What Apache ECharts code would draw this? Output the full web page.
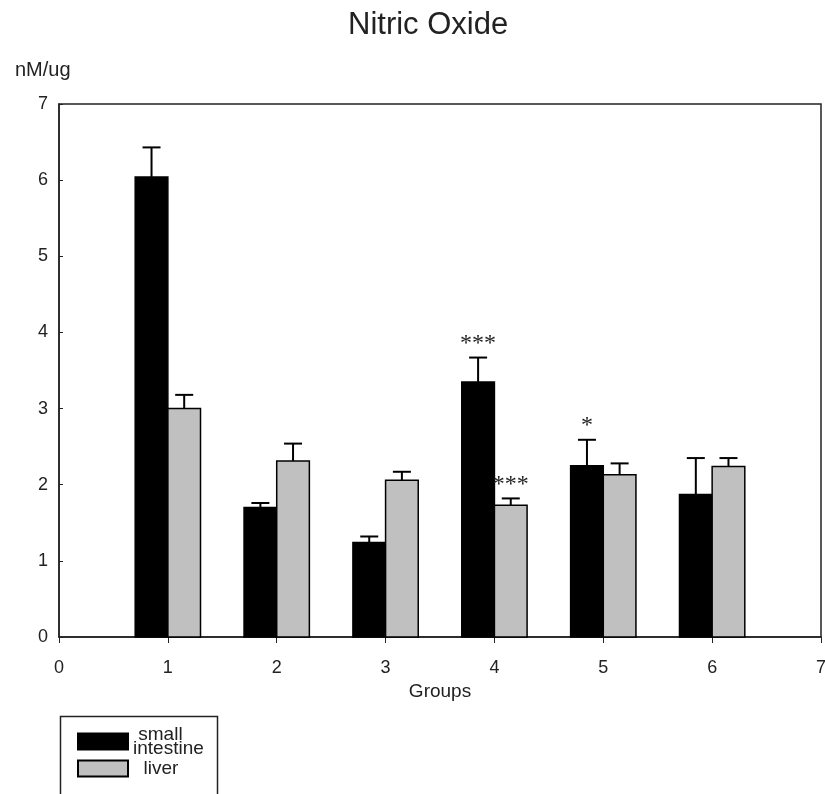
<!DOCTYPE html>
<html>
<head>
  <meta charset="UTF-8">
  <title>Nitric Oxide</title>
  <style>
    * { margin:0; padding:0; }
    body { background:#fff; }
    #chart { width:825px; height:794px; }
  </style>
  <script src="https://cdn.jsdelivr.net/npm/echarts@6/dist/echarts.min.js"></script>
</head>
<body>
  <div id="chart"></div>
  <script>
    // values
    const groups = [1, 2, 3, 4, 5, 6];
    const intestine    = [6.04, 1.70, 1.24, 3.35, 2.25, 1.87];
    const intestineErr = [0.39, 0.06, 0.08, 0.32, 0.34, 0.48];
    const intestineSig = ['', '', '', '***', '*', ''];
    const liver    = [3.00, 2.31, 2.06, 1.73, 2.13, 2.24];
    const liverErr = [0.18, 0.23, 0.11, 0.09, 0.15, 0.11];
    const liverSig = ['', '', '', '***', '', ''];

    const barW = 0.3;

    function makeRender(side, color, sig) {
      return function (params, api) {
        const g = api.value(0), v = api.value(1), e = api.value(2);
        const x0 = side < 0 ? g - barW : g;
        const p0 = api.coord([x0, v]);
        const p1 = api.coord([x0 + barW, 0]);
        const mid = api.coord([x0 + barW / 2, v]);
        const top = api.coord([x0 + barW / 2, v + e]);
        const children = [
          { type: 'line', shape: { x1: mid[0], y1: mid[1], x2: top[0], y2: top[1] },
            style: { stroke: '#000', lineWidth: 2 } },
          { type: 'line', shape: { x1: top[0] - 9, y1: top[1], x2: top[0] + 9, y2: top[1] },
            style: { stroke: '#000', lineWidth: 2 } },
          { type: 'rect', shape: { x: p0[0], y: p0[1], width: p1[0] - p0[0], height: p1[1] - p0[1] },
            style: { fill: color, stroke: '#000', lineWidth: 1.5 } }
        ];
        const s = sig[params.dataIndex];
        if (s) {
          children.push({ type: 'text', style: {
            text: s, x: top[0], y: top[1] - 2, align: 'center', verticalAlign: 'bottom',
            font: '24px "Liberation Serif", serif', fill: '#222' } });
        }
        return { type: 'group', children: children };
      };
    }

    const chart = echarts.init(document.getElementById('chart'));
    chart.setOption({
      animation: false,
      title: [
        { text: 'Nitric Oxide', left: 343, top: 5,
          textStyle: { fontFamily: 'Liberation Sans', fontSize: 31, fontWeight: 'normal', color: '#222' } },
        { text: 'nM/ug', left: 10, top: 55,
          textStyle: { fontFamily: 'Liberation Sans', fontSize: 20, fontWeight: 'normal', color: '#222' } }
      ],
      grid: { left: 59, right: 4, top: 104, bottom: 157, outerBoundsMode: 'none',
              show: true, borderColor: '#222', borderWidth: 1.5 },
      legend: {
        orient: 'vertical', left: 72, top: 720, itemWidth: 50, itemHeight: 16, itemGap: 1,
        icon: 'rect',
        data: ['small intestine', 'liver'],
        formatter: function (n) { return n === 'small intestine' ? ' small\nintestine' : '  liver'; },
        textStyle: { fontFamily: 'Liberation Sans', fontSize: 19, lineHeight: 14, color: '#222' }
      },
      graphic: [
        { type: 'rect', left: 58, top: 714, shape: { width: 157, height: 100 },
          style: { fill: 'none', stroke: '#222', lineWidth: 1.5 } }
      ],
      xAxis: {
        type: 'value', min: 0, max: 7, interval: 1,
        name: 'Groups', nameLocation: 'middle', nameGap: 44,
        nameTextStyle: { fontFamily: 'Liberation Sans', fontSize: 19, color: '#222' },
        axisLine: { lineStyle: { color: '#222', width: 1.5 } },
        axisTick: { show: true, inside: false, length: 6, lineStyle: { color: '#222' } },
        axisLabel: { margin: 22, fontFamily: 'Liberation Sans', fontSize: 18, color: '#222' },
        splitLine: { show: false }
      },
      yAxis: {
        type: 'value', min: 0, max: 7, interval: 1,
        axisLine: { show: true, lineStyle: { color: '#222', width: 1.5 } },
        axisTick: { show: true, inside: true, length: 4, lineStyle: { color: '#222' } },
        axisLabel: { margin: 11, fontFamily: 'Liberation Sans', fontSize: 18, color: '#222' },
        splitLine: { show: false }
      },
      series: [
        {
          name: 'small intestine', type: 'custom', itemStyle: { color: '#000', borderColor: '#000', borderWidth: 1.5 },
          renderItem: makeRender(-1, '#000', intestineSig),
          encode: { x: 0, y: 1 },
          data: groups.map((g, i) => [g, intestine[i], intestineErr[i]])
        },
        {
          name: 'liver', type: 'custom', itemStyle: { color: '#c0c0c0', borderColor: '#000', borderWidth: 1.5 },
          renderItem: makeRender(1, '#c0c0c0', liverSig),
          encode: { x: 0, y: 1 },
          data: groups.map((g, i) => [g, liver[i], liverErr[i]])
        }
      ]
    });
  </script>
</body>
</html>
